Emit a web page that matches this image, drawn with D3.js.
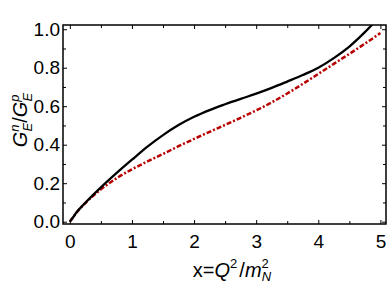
<!DOCTYPE html>
<html><head><meta charset="utf-8">
<script src="https://cdn.jsdelivr.net/npm/d3@7"></script>
<style>body{margin:0;background:#fff}svg{display:block}text{font-family:"Liberation Sans",Arial,sans-serif;fill:#000}</style>
</head><body><svg id="c" width="390" height="285"></svg>
<script>
const xVals   = [0, 0.05, 0.1, 0.25, 0.5, 0.75, 1.0, 1.25, 1.5, 1.75, 2.0, 2.25, 2.5, 2.75, 3.0, 3.25, 3.5, 3.75, 4.0, 4.25, 4.5, 4.75, 5.0];
const blackY  = [0, 0.022, 0.045, 0.098, 0.178, 0.252, 0.322, 0.39, 0.45, 0.502, 0.545, 0.58, 0.61, 0.638, 0.665, 0.695, 0.728, 0.762, 0.80, 0.85, 0.91, 0.985, 1.07];
const redY    = [0, 0.022, 0.044, 0.097, 0.168, 0.225, 0.272, 0.313, 0.352, 0.392, 0.43, 0.467, 0.503, 0.54, 0.578, 0.62, 0.666, 0.716, 0.768, 0.82, 0.872, 0.925, 0.98];
const xTicks  = [0, 1, 2, 3, 4, 5];
const xMinor  = [0.5, 1.5, 2.5, 3.5, 4.5];
const yTicks  = [0, 0.2, 0.4, 0.6, 0.8, 1.0];
const yMinor  = [0.1, 0.3, 0.5, 0.7, 0.9];

const L = 63, R = 386, T = 25, B = 224;
const x = d3.scaleLinear().domain([-0.11, 5.09]).range([L, R]);
const y = d3.scaleLinear().domain([-0.012, 1.022]).range([B, T]);
const svg = d3.select("#c");

svg.append("clipPath").attr("id","clip").append("rect")
  .attr("x", L).attr("y", T).attr("width", R - L).attr("height", B - T);

const line = d3.line().curve(d3.curveMonotoneX);
const g = svg.append("g").attr("clip-path","url(#clip)");
g.append("path").attr("d", line(xVals.map((v,i)=>[x(v), y(redY[i])])))
  .attr("fill","none").attr("stroke","#b80000").attr("stroke-width",2.5)
  .attr("stroke-dasharray","5,2,2,2");
g.append("path").attr("d", line(xVals.map((v,i)=>[x(v), y(blackY[i])])))
  .attr("fill","none").attr("stroke","#000").attr("stroke-width",2.3);

const fmt1 = d3.format(".1f");
const ax = (gen, tr) => svg.append("g").attr("transform", tr).call(gen);
const styleAxis = sel => { sel.select(".domain").remove(); sel.selectAll("line").attr("stroke","#000").attr("stroke-width",1); sel.selectAll("text").attr("font-size",19).attr("fill","#000").attr("font-family","Liberation Sans, Arial, sans-serif"); };

styleAxis(ax(d3.axisBottom(x).tickValues(xTicks).tickFormat(d3.format("d")).tickSizeInner(-4).tickSizeOuter(0).tickPadding(11), `translate(0,${B})`));
styleAxis(ax(d3.axisBottom(x).tickValues(xMinor).tickFormat("").tickSizeInner(-3).tickSizeOuter(0), `translate(0,${B})`));
styleAxis(ax(d3.axisTop(x).tickValues(xTicks).tickFormat("").tickSizeInner(-4).tickSizeOuter(0), `translate(0,${T})`));
styleAxis(ax(d3.axisTop(x).tickValues(xMinor).tickFormat("").tickSizeInner(-3).tickSizeOuter(0), `translate(0,${T})`));
styleAxis(ax(d3.axisLeft(y).tickValues(yTicks).tickFormat(fmt1).tickSizeInner(-4).tickSizeOuter(0).tickPadding(3), `translate(${L},0)`));
styleAxis(ax(d3.axisLeft(y).tickValues(yMinor).tickFormat("").tickSizeInner(-3).tickSizeOuter(0), `translate(${L},0)`));
styleAxis(ax(d3.axisRight(y).tickValues(yTicks).tickFormat("").tickSizeInner(-4).tickSizeOuter(0), `translate(${R},0)`));
styleAxis(ax(d3.axisRight(y).tickValues(yMinor).tickFormat("").tickSizeInner(-3).tickSizeOuter(0), `translate(${R},0)`));

svg.append("rect").attr("x", L).attr("y", T).attr("width", R - L).attr("height", B - T)
  .attr("fill","none").attr("stroke","#000").attr("stroke-width",1.5);

const xl = svg.append("text").attr("x", 232).attr("y", 277).attr("text-anchor","middle").attr("font-size",20);
xl.append("tspan").text("x=");
xl.append("tspan").attr("font-style","italic").text("Q");
xl.append("tspan").attr("font-size",13).attr("dy",-9).text("2");
xl.append("tspan").attr("dx",2).attr("dy",9).text("/");
xl.append("tspan").attr("font-style","italic").text("m");
xl.append("tspan").attr("font-size",13).attr("dy",-9).text("2");
xl.append("tspan").attr("font-size",13).attr("font-style","italic").attr("dx",-7).attr("dy",13).text("N");

const yl = svg.append("text").attr("transform","translate(27,120) rotate(-90)").attr("text-anchor","middle").attr("font-size",20);
yl.append("tspan").attr("font-style","italic").text("G");
yl.append("tspan").attr("font-size",13).attr("font-style","italic").attr("dy",-8).text("n");
yl.append("tspan").attr("font-size",13).attr("font-style","italic").attr("dx",-7).attr("dy",13).text("E");
yl.append("tspan").attr("dy",-5).text("/");
yl.append("tspan").attr("font-style","italic").text("G");
yl.append("tspan").attr("font-size",13).attr("font-style","italic").attr("dy",-8).text("p");
yl.append("tspan").attr("font-size",13).attr("font-style","italic").attr("dx",-7).attr("dy",13).text("E");
</script></body></html>
